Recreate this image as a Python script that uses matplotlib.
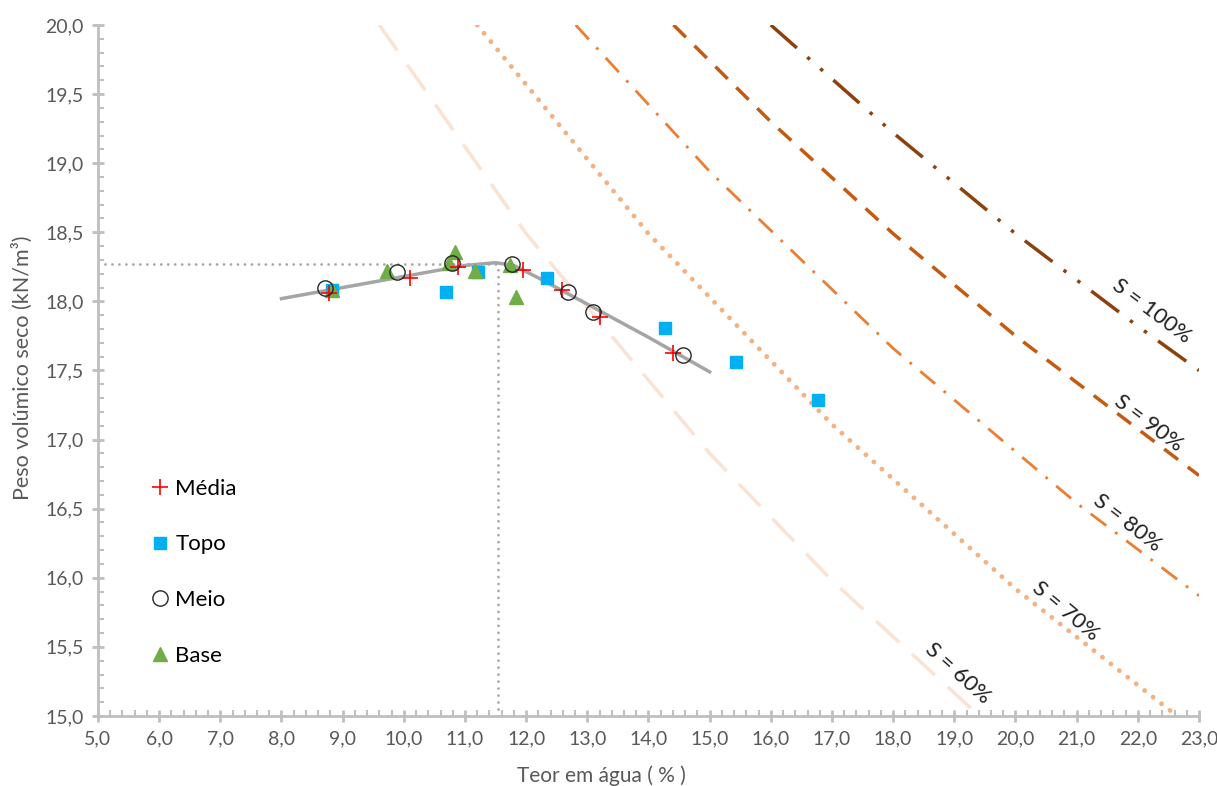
import matplotlib.pyplot as plt
import numpy as np
from matplotlib.ticker import MultipleLocator, FuncFormatter

plt.rcParams['font.family'] = ['Lato', 'DejaVu Sans']

# pontos experimentais (teor em água %, peso volúmico seco kN/m3)
media_w = [8.78, 10.10, 10.89, 11.95, 12.59, 13.21, 14.40]
media_g = [18.06, 18.17, 18.25, 18.23, 18.08, 17.89, 17.63]
topo_w = [8.83, 10.69, 11.21, 12.34, 14.27, 15.43, 16.77]
topo_g = [18.08, 18.07, 18.21, 18.17, 17.81, 17.56, 17.29]
meio_w = [8.71, 9.89, 10.79, 11.77, 12.68, 13.09, 14.56]
meio_g = [18.10, 18.21, 18.28, 18.27, 18.07, 17.92, 17.61]
base_w = [8.83, 9.72, 10.74, 10.84, 11.16, 11.74, 11.83]
base_g = [18.08, 18.22, 18.28, 18.36, 18.22, 18.26, 18.03]

# curva de compactação (ajuste)
curva_w = [8.0, 9.0, 10.0, 10.5, 11.0, 11.5, 11.8, 12.2, 13.0, 14.0, 15.0]
curva_g = [18.02, 18.10, 18.18, 18.22, 18.26, 18.28, 18.26, 18.17, 17.98, 17.74, 17.49]

# ótimo
w_opt = 11.54
g_max = 18.27

# curvas de saturação
s60_w = [9.60, 12.0, 15.0, 17.0, 19.41]
s60_g = [20.0, 18.49, 16.90, 15.98, 15.0]
s70_w = [11.20, 14.0, 17.0, 20.0, 22.64]
s70_g = [20.0, 18.49, 17.11, 15.92, 15.0]
s80_w = [12.81, 15.0, 18.0, 21.0, 23.0]
s80_g = [20.0, 18.94, 17.66, 16.54, 15.87]
s90_w = [14.41, 16.0, 18.0, 20.0, 23.0]
s90_g = [20.0, 19.30, 18.49, 17.75, 16.74]
s100_w = [16.0, 18.0, 20.0, 22.0, 23.0]
s100_g = [20.0, 19.22, 18.49, 17.82, 17.50]

fig = plt.figure(figsize=(12.17, 7.86), dpi=100)
ax = fig.add_axes([0.0805, 0.0891, 0.9047, 0.8791])

ax.plot(s60_w, s60_g, color='#FBE3D3', lw=2.5, dashes=(9, 5))
ax.plot(s70_w, s70_g, color='#F4B183', lw=3.5, linestyle=(0, (0.01, 2.2)), dash_capstyle='round')
ax.plot(s80_w, s80_g, color='#ED7D31', lw=2, dashes=(7, 4, 1, 4))
ax.plot(s90_w, s90_g, color='#C55A11', lw=2.5, dashes=(5, 3.5))
ax.plot(s100_w, s100_g, color='#8C420F', lw=2.5, dashes=(10, 4, 1, 4, 1, 4))

ax.plot([5, w_opt], [g_max, g_max], color='#A6A6A6', lw=2, linestyle=(0, (0.01, 2.5)), dash_capstyle='round')
ax.plot([w_opt, w_opt], [15, g_max], color='#A6A6A6', lw=2, linestyle=(0, (0.01, 2.5)), dash_capstyle='round')

ax.plot(curva_w, curva_g, color='#A5A5A5', lw=2.5, zorder=3)

ax.plot(media_w, media_g, '+', color='#FF0000', ms=11, mew=1.2, label='Média', zorder=5)
ax.plot(topo_w, topo_g, 's', color='#00B0F0', ms=8, mec='#00B0F0', label='Topo', zorder=4)
ax.plot(meio_w, meio_g, 'o', mfc='none', mec='#262626', ms=11, mew=1, label='Meio', zorder=5)
ax.plot(base_w, base_g, '^', color='#70AD47', ms=10, label='Base', zorder=4)

labels = [('S = 60%', 19.06, 15.31, -42), ('S = 70%', 20.82, 15.76, -40),
          ('S = 80%', 21.82, 16.40, -38), ('S = 90%', 22.17, 17.12, -37),
          ('S = 100%', 22.22, 17.93, -37)]
for txt, x, y, rot in labels:
    ax.text(x, y, txt, rotation=rot, ha='center', va='center', fontsize=16,
            color='#202020', rotation_mode='anchor')

ax.set_xlim(5, 23)
ax.set_ylim(15, 20)
ax.xaxis.set_major_locator(MultipleLocator(1))
ax.xaxis.set_minor_locator(MultipleLocator(0.2))
ax.yaxis.set_major_locator(MultipleLocator(0.5))
ax.yaxis.set_minor_locator(MultipleLocator(0.1))
fmt = FuncFormatter(lambda v, p: ('%.1f' % v).replace('.', ','))
ax.xaxis.set_major_formatter(fmt)
ax.yaxis.set_major_formatter(fmt)

for s in ['top', 'right']:
    ax.spines[s].set_visible(False)
for s in ['left', 'bottom']:
    ax.spines[s].set_color('#BFBFBF')
    ax.spines[s].set_linewidth(2)
ax.tick_params(which='major', direction='inout', length=9, width=2, color='#BFBFBF',
               labelsize=14, labelcolor='#595959', pad=6)
ax.tick_params(which='minor', direction='in', length=4, width=1.5, color='#BFBFBF')

ax.set_xlabel('Teor em água ( % )', fontsize=15, color='#595959')
ax.set_ylabel('Peso volúmico seco (kN/m³)', fontsize=15.5, color='#595959')
ax.xaxis.set_label_coords(0.457, -0.072)
ax.yaxis.set_label_coords(-0.059, 0.504)

ax.legend(loc='center left', bbox_to_anchor=(0.048, 0.208), frameon=False, fontsize=16,
          labelspacing=1.6, handlelength=0.8, handletextpad=0.3, borderaxespad=0, borderpad=0)

fig.savefig('out.png', dpi=100)
